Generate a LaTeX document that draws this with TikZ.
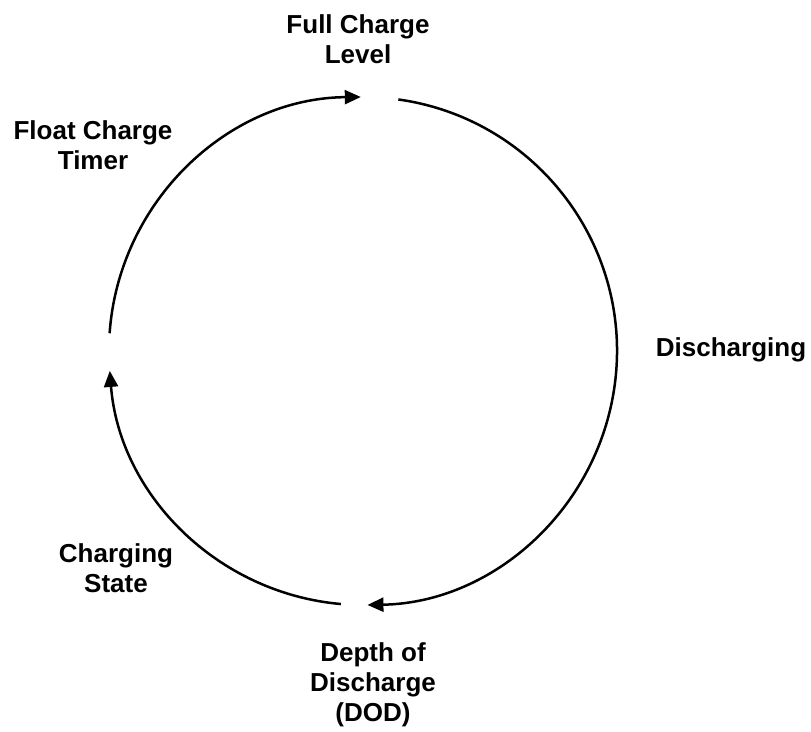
\documentclass[tikz,border=0pt]{standalone}
\usepackage{fontspec}
\setmainfont{Liberation Sans}
\usetikzlibrary{arrows.meta,calc}
\begin{document}
\begin{tikzpicture}[x=1pt,y=1pt,
  lbl/.style={font=\fontsize{26}{30}\selectfont\bfseries, align=center, inner sep=0pt},
  cyc/.style={line width=2.5pt, -{Triangle[length=16pt,width=14pt]}}]
\useasboundingbox (0,0) rectangle (811,731);
\coordinate (c) at (363,380);
\coordinate (a1) at ($(c)+(82:254)$);
\coordinate (a2) at ($(c)+(-95:254)$);
\coordinate (a3) at ($(c)+(176:254)$);
\draw[cyc] (a1) arc[start angle=82, end angle=-89, radius=254];
\draw[cyc] (a2) arc[start angle=-95, end angle=-175.5, radius=254];
\draw[cyc] (a3) arc[start angle=176, end angle=90.5, radius=254];
\node[lbl] (full) at (358,692) {Full Charge\\Level};
\node[lbl] (float) at (93,586) {Float Charge\\Timer};
\node[lbl] (dis) at (731,381) {Discharging};
\node[lbl] (chg) at (116,163) {Charging\\State};
\node[lbl] (dod) at (373,46) {Depth of\\Discharge\\(DOD)};
\end{tikzpicture}
\end{document}
